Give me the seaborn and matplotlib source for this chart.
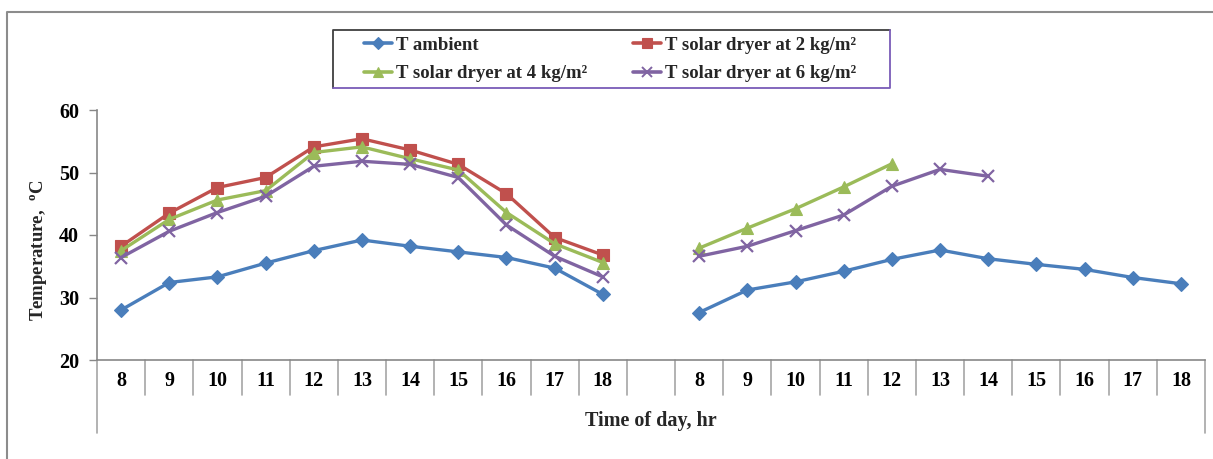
import matplotlib
matplotlib.use("Agg")
import matplotlib.pyplot as plt
from matplotlib.lines import Line2D
import numpy as np
import pandas as pd
import seaborn as sns

# ---- data -------------------------------------------------------------
hours = [8, 9, 10, 11, 12, 13, 14, 15, 16, 17, 18]

# first drying day
day1_ambient = [28.0, 32.4, 33.3, 35.5, 37.5, 39.2, 38.2, 37.3, 36.4, 34.7, 30.5]
day1_2kg = [38.2, 43.5, 47.6, 49.2, 54.1, 55.4, 53.6, 51.3, 46.6, 39.6, 36.8]
day1_4kg = [37.5, 42.5, 45.6, 47.1, 53.2, 54.1, 52.2, 50.4, 43.6, 38.6, 35.6]
day1_6kg = [36.4, 40.6, 43.6, 46.2, 51.0, 51.8, 51.3, 49.2, 41.6, 36.6, 33.3]

# second drying day
day2_hours_4kg = [8, 9, 10, 11, 12]
day2_hours_6kg = [8, 9, 10, 11, 12, 13, 14]
day2_ambient = [27.6, 31.2, 32.5, 34.2, 36.1, 37.6, 36.2, 35.3, 34.5, 33.2, 32.2]
day2_4kg = [37.9, 41.1, 44.2, 47.7, 51.4]
day2_6kg = [36.6, 38.2, 40.7, 43.2, 47.8, 50.5, 49.4]

series_names = ["T ambient", "T solar dryer at 2 kg/m²",
                "T solar dryer at 4 kg/m²", "T solar dryer at 6 kg/m²"]
y_ticks = [20, 30, 40, 50, 60]

# ---- styling ------------------------------------------------------------
sns.set_theme(style="white")
plt.rcParams["font.family"] = ["Liberation Serif", "DejaVu Serif"]
plt.rcParams["font.weight"] = "bold"
plt.rcParams["mathtext.fontset"] = "custom"
plt.rcParams["mathtext.rm"] = "Liberation Serif:bold"
plt.rcParams["mathtext.it"] = "Liberation Serif:bold"
plt.rcParams["mathtext.bf"] = "Liberation Serif:bold"

colors = ["#4A7EBB", "#C0504D", "#9BBB59", "#8064A2"]
markers = ["D", "s", "^", "x"]
msizes = [7, 9, 9, 9]
axis_grey = "#878787"
tick_fs = 14.5

W, H = 1213, 459

# category slots: 11 hours, one empty slot, 11 hours
day_offset = {1: 0, 2: 12}


def rows(name, day, hrs, vals):
    return pd.DataFrame({"series": name, "day": day,
                         "pos": [h - 8 + day_offset[day] for h in hrs],
                         "temp": vals})


data = pd.concat([
    rows(series_names[0], 1, hours, day1_ambient),
    rows(series_names[1], 1, hours, day1_2kg),
    rows(series_names[2], 1, hours, day1_4kg),
    rows(series_names[3], 1, hours, day1_6kg),
    rows(series_names[0], 2, hours, day2_ambient),
    rows(series_names[2], 2, day2_hours_4kg, day2_4kg),
    rows(series_names[3], 2, day2_hours_6kg, day2_6kg),
], ignore_index=True)

fig = plt.figure(figsize=(W / 100, H / 100), dpi=100)
ax = fig.add_axes([97 / W, 1 - 360 / H, (1205 - 97) / W, 250 / H])

for name, c, m, ms in zip(series_names, colors, markers, msizes):
    for day in (1, 2):
        sub = data[(data.series == name) & (data.day == day)]
        if sub.empty:
            continue
        sns.lineplot(data=sub, x="pos", y="temp", ax=ax, color=c,
                     marker=m, markersize=ms, linewidth=2.4,
                     markeredgecolor=c, markeredgewidth=1.6 if m == "x" else 0.8,
                     estimator=None, sort=False, legend=False)

# ---- axes ---------------------------------------------------------------
ax.set_ylim(20, 60)
ax.set_yticks(y_ticks)
ax.set_yticklabels([str(v) for v in y_ticks], fontsize=tick_fs, fontweight="bold")
ax.set_xlim(-0.5, 22.5)
tick_pos = list(range(23))
tick_lab = [str(h) for h in hours] + [""] + [str(h) for h in hours]
ax.set_xticks(tick_pos)
ax.set_xticklabels(tick_lab, fontsize=tick_fs, fontweight="bold")
ax.tick_params(axis="x", length=0, pad=8, colors="black")
ax.tick_params(axis="y", left=True, length=6, width=1, color=axis_grey,
               pad=7, colors="black")

for s in ["top", "right"]:
    ax.spines[s].set_visible(False)
for s in ["left", "bottom"]:
    ax.spines[s].set_color(axis_grey)
    ax.spines[s].set_linewidth(1.2)

# category separators below the axis
trans = ax.get_xaxis_transform()
for k in range(24):
    xb = k - 0.5
    y_end = -0.29 if k in (0, 23) else -0.14
    ax.plot([xb, xb], [0, y_end], color="#A6A6A6", lw=1.2,
            transform=trans, clip_on=False)

ax.set_xlabel("Time of day, hr", fontsize=14.5, fontweight="bold")
ax.xaxis.set_label_coords(0.5, -0.245)
ax.xaxis.label.set_verticalalignment("center")
ax.set_ylabel("Temperature,  $^{o}$C", fontsize=13.5, fontweight="bold")
ax.yaxis.set_label_coords(-0.043, 0.44)

# ---- legend -------------------------------------------------------------
handles = [Line2D([0], [0], color=c, marker=m, markersize=ms * 0.85, lw=2.6,
                  markeredgecolor=c, markeredgewidth=1.4 if m == "x" else 0.8)
           for c, m, ms in zip(colors, markers, msizes)]
order = [0, 2, 1, 3]
leg = fig.legend([handles[i] for i in order], [series_names[i] for i in order],
                 ncol=2, loc="center", bbox_to_anchor=(610 / W, 1 - 59.5 / H),
                 frameon=False,
                 prop={"weight": "bold", "size": 13.5}, handlelength=1.5,
                 handletextpad=0.2, columnspacing=2.45, borderpad=0.0,
                 labelspacing=0.6, borderaxespad=0)

# legend box: dark top/left edges, violet bottom/right edges
x0, x1 = 333 / W, 890 / W
y0, y1 = 1 - 88 / H, 1 - 30 / H
fig.add_artist(Line2D([x0, x0, x1], [y0, y1, y1], transform=fig.transFigure,
                      color="#3F3F3F", lw=1.3))
fig.add_artist(Line2D([x0, x1, x1], [y0, y0, y1], transform=fig.transFigure,
                      color="#7A5CB8", lw=1.3))

# chart area frame (top and left edges)
fig.add_artist(Line2D([7 / W, 7 / W, 1.0], [0.0, 1 - 12 / H, 1 - 12 / H],
                      transform=fig.transFigure, color="#8C8C8C", lw=1.5))

fig.savefig("out.png", dpi=100, facecolor="white")
